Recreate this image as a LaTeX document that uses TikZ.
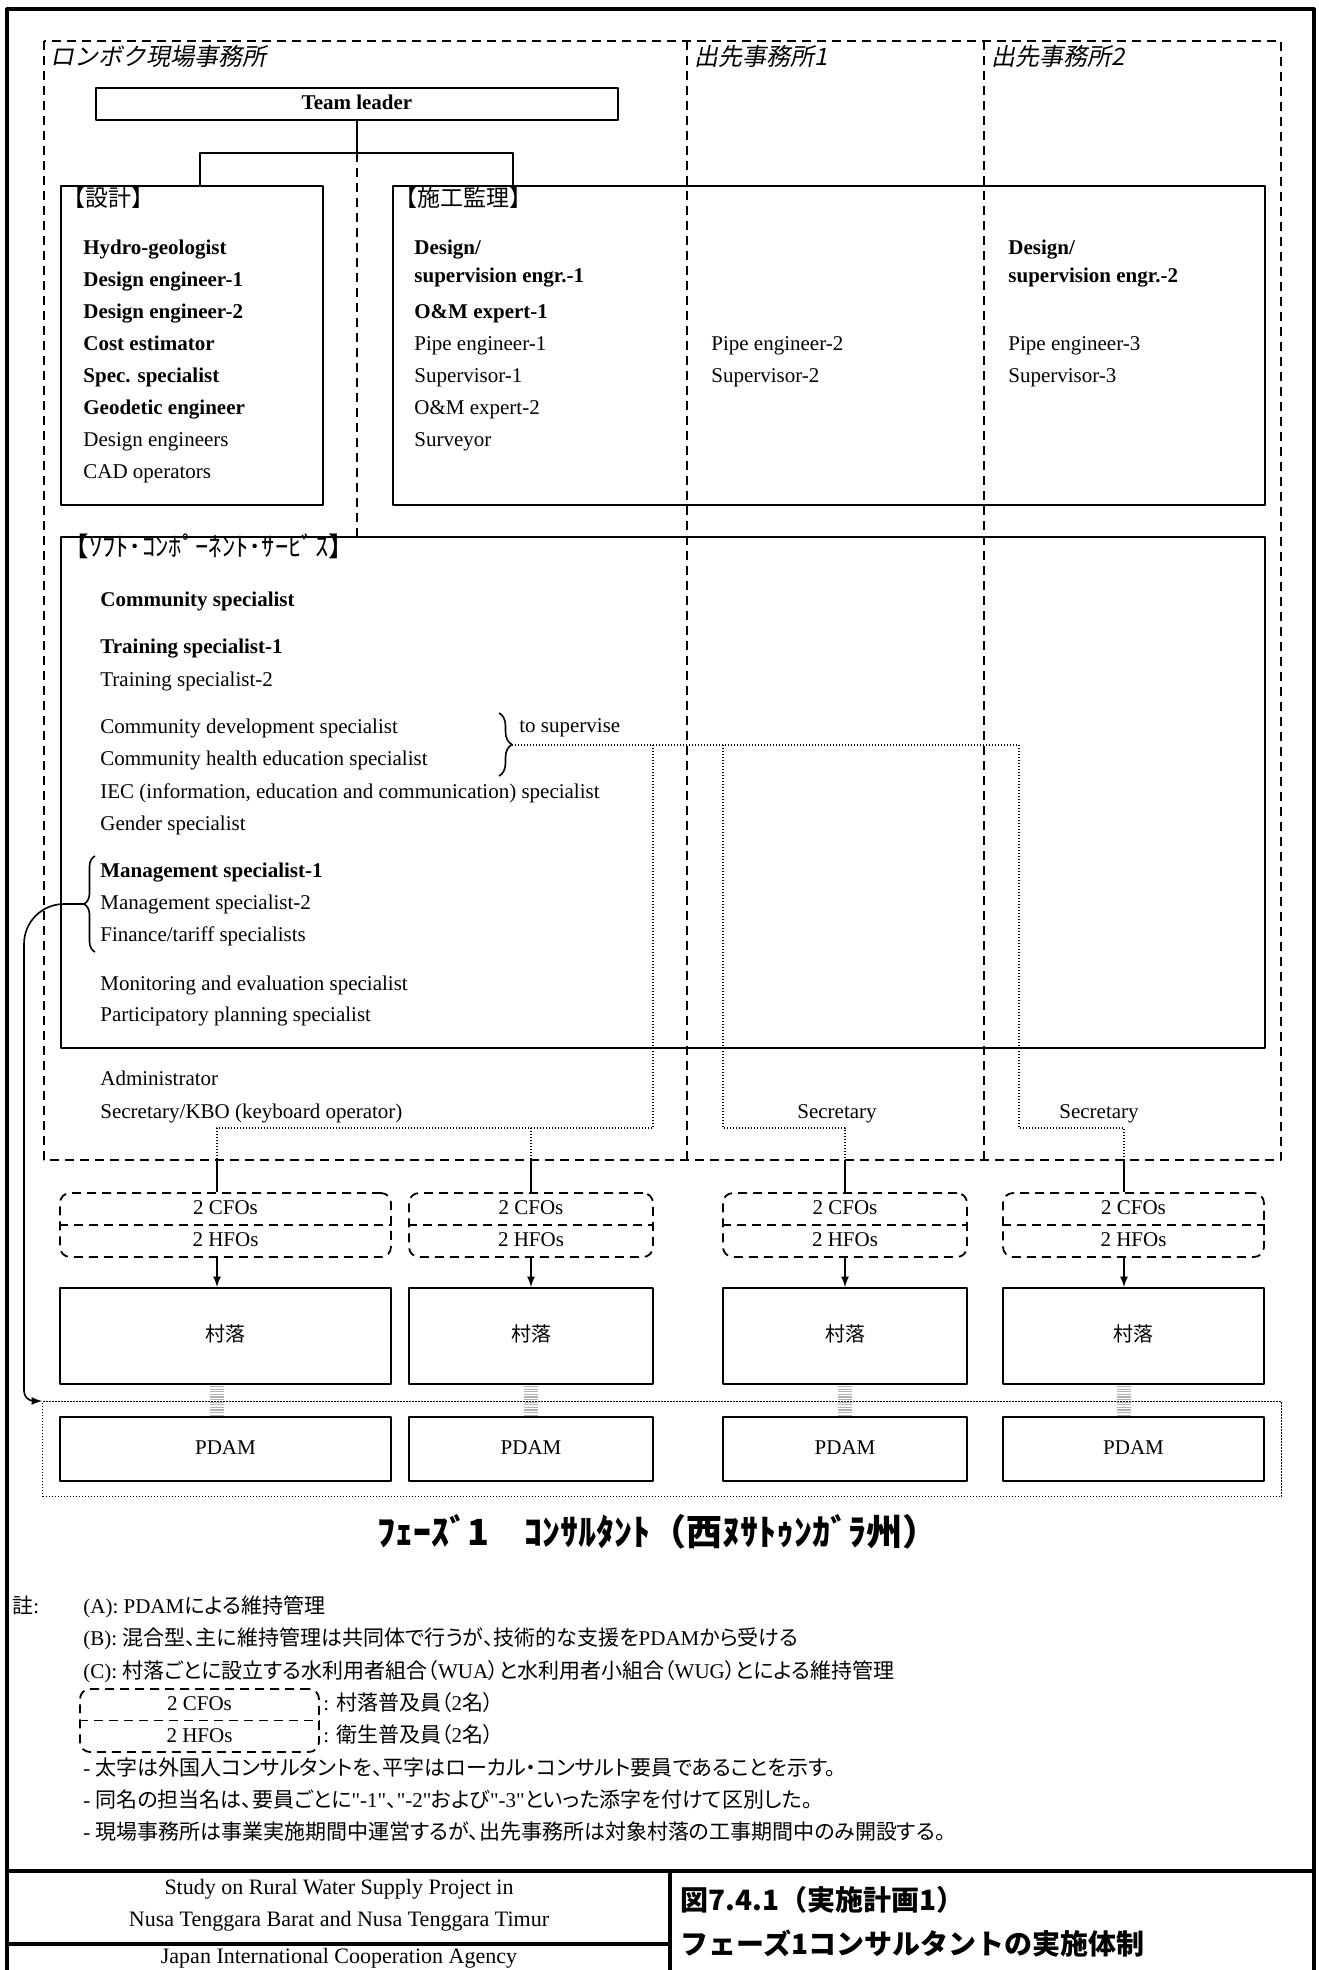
\documentclass[tikz,border=0pt]{standalone}
\usepackage{fontspec}
\setmainfont{Liberation Serif}
\newfontfamily\jp{Noto Sans CJK JP}
\newfontfamily\jpp{Noto Sans CJK JP}[RawFeature=+palt]
\newfontfamily\jpit{Noto Sans CJK JP}[FakeSlant=0.2]
\usetikzlibrary{decorations.pathreplacing}

\tikzset{
  box/.style={draw, line width=1pt, inner sep=0pt},
  area/.style={dash pattern=on 4.5pt off 3pt, line width=0.9pt},
  link/.style={dash pattern=on 0.6pt off 0.9pt, line width=0.55pt},
  fieldbox/.style={draw, area, rounded corners=5pt, minimum height=32pt},
  tie/.style={line width=0.8pt},
  memb/.style={anchor=west},
  lead/.style={anchor=west, font=\fontsize{10.5}{12}\selectfont\bfseries},
  office/.style={anchor=west, font=\jpit\fontsize{12}{14}\selectfont},
  seclabel/.style={anchor=west, font=\jp\fontsize{11.5}{13}\selectfont},
  note/.style={anchor=west, font=\fontsize{10.5}{12}\selectfont},
  figtitle/.style={anchor=west, font=\jp\bfseries\fontsize{14}{16}\selectfont}
}

\begin{document}
\begin{tikzpicture}[x=0.5pt, y=-0.5pt, line join=round, >=latex,
    every node/.style={inner sep=0pt, text height=0.7em, text depth=0.2em, font=\fontsize{10.5}{12}\selectfont}]
\useasboundingbox (0,0) rectangle (1318,1970);

% sheet frame and title block
\draw[line width=1.6pt] (7,1980) -- (7,9) -- (1314,9) -- (1314,1980);
\draw[line width=1.6pt] (7,1871) -- (1314,1871);
\draw[line width=1.6pt] (670,1871) -- (670,1980);
\draw[line width=1.6pt] (7,1944) -- (670,1944);
\node[font=\fontsize{11}{13}\selectfont] (study1) at (339,1889) {Study on Rural Water Supply Project in};
\node[font=\fontsize{11}{13}\selectfont] (study2) at (339,1921) {Nusa Tenggara Barat and Nusa Tenggara Timur};
\node[font=\fontsize{11}{13}\selectfont] (jica) at (339,1958) {Japan International Cooperation Agency};
\node[figtitle] (fignum) at (680,1905) {図7.4.1（実施計画1）};
\node[figtitle] (figname) at (680,1949) {フェーズ1コンサルタントの実施体制};

% offices
\draw[area] (44,41) rectangle (1281,1160);
\draw[area] (687,41) -- (687,1160);
\draw[area] (984,41) -- (984,1160);
\node[office] (lombok) at (50,60) {ロンボク現場事務所};
\node[office] (field1) at (694,60) {出先事務所1};
\node[office] (field2) at (991,60) {出先事務所2};

% team leader and groups
\node[box, minimum width=261pt, minimum height=16pt, font=\fontsize{10.5}{12}\selectfont\bfseries] (leader) at (357,104) {Team leader};
\node[box, anchor=north west, minimum width=131pt, minimum height=159.5pt] (design) at (60,185) {};
\node[box, anchor=north west, minimum width=436pt, minimum height=159.5pt] (works) at (392,185) {};
\node[box, anchor=north west, minimum width=602pt, minimum height=255.5pt] (soft) at (60,536) {};
\coordinate (split) at (357,153);
\draw[tie] (leader.south) -- (split);
\draw[tie] ([xshift=70pt]design.north west) |- (split) -| ([xshift=60.5pt]works.north west);
\draw[area] (split) -- (split |- soft.north);

\node[seclabel] (dlabel) at (62,201) {【設計】};
\node[seclabel] (wlabel) at (394,201) {【施工監理】};
\node[seclabel, font=\jp\fontsize{13.3}{15}\selectfont] (slabel) at (62,551) {【ｿﾌﾄ･ｺﾝﾎﾟｰﾈﾝﾄ･ｻｰﾋﾞｽ】};

% design
\foreach \y/\t [count=\i] in {249/Hydro-geologist, 281/Design engineer-1, 313/Design engineer-2, 345/Cost estimator, 377/Spec. specialist, 409/Geodetic engineer}
  \node[lead] (dx\i) at (83,\y) {\t};
\node[memb] (dx7) at (83,441) {Design engineers};
\node[memb] (dx8) at (83,473) {CAD operators};

% supervision
\node[lead] (wk1) at (414,249) {Design/};
\node[lead] (wk2) at (414,277) {supervision engr.-1};
\node[lead] (wk3) at (414,313) {O\&M expert-1};
\node[memb] (wk4) at (414,345) {Pipe engineer-1};
\node[memb] (wk5) at (414,377) {Supervisor-1};
\node[memb] (wk6) at (414,409) {O\&M expert-2};
\node[memb] (wk7) at (414,441) {Surveyor};
\node[memb] (fa1) at (711,345) {Pipe engineer-2};
\node[memb] (fa2) at (711,377) {Supervisor-2};
\node[lead] (fb1) at (1008,249) {Design/};
\node[lead] (fb2) at (1008,277) {supervision engr.-2};
\node[memb] (fb3) at (1008,345) {Pipe engineer-3};
\node[memb] (fb4) at (1008,377) {Supervisor-3};

% soft component
\foreach \y/\t [count=\i] in {601/Community specialist, 648/Training specialist-1, 872/Management specialist-1}
  \node[lead] (sb\i) at (100,\y) {\t};
\foreach \y/\t [count=\i] in {681/Training specialist-2, 728/Community development specialist, 760/Community health education specialist, 793/{IEC (information, education and communication) specialist}, 825/Gender specialist, 904/Management specialist-2, 936/{Finance/tariff specialists}, 985/Monitoring and evaluation specialist, 1016/Participatory planning specialist}
  \node[memb] (sr\i) at (100,\y) {\t};
\node[memb] (admin) at (100,1080) {Administrator};
\node[memb] (kbo) at (100,1113) {Secretary/KBO (keyboard operator)};
\node (sec1) at (837,1113) {Secretary};
\node (sec2) at (1099,1113) {Secretary};

\draw[tie, decorate, decoration={brace, amplitude=6.5pt}] (499,713) -- (499,776);
\coordinate (suptip) at (512,745);
\node[memb] (supv) at (519,727) {to supervise};
\draw[tie, decorate, decoration={brace, amplitude=5.5pt}] (95,952) -- (95,856);
\coordinate (mgtip) at (84,904);

% villages
\node[draw, link, anchor=north west, minimum width=619.5pt, minimum height=47.5pt] (pdamframe) at (42,1401) {};
\foreach \i/\cx/\w/\dx in {1/225.5/165.5/217, 2/531/122/531, 3/845/122/845, 4/1133.5/130.5/1124}{
  \coordinate (drop\i) at (\dx,1160);
  \node[fieldbox, minimum width=\w pt] (cfo\i) at (\cx,1225) {};
  \draw[area] (cfo\i.west) -- (cfo\i.east);
  \node (cfot\i) at (\cx,1209) {2 CFOs};
  \node (hfot\i) at (\cx,1241) {2 HFOs};
  \node[box, minimum width=\w pt, minimum height=48pt, font=\jp\fontsize{10}{12}\selectfont] (vil\i) at (\cx,1336) {村落};
  \node[box, minimum width=\w pt, minimum height=32pt] (pdam\i) at (\cx,1449) {PDAM};
  \draw[tie] (drop\i) -- (drop\i |- cfo\i.north);
  \draw[tie, ->] (drop\i |- cfo\i.south) -- (drop\i |- vil\i.north);
  \coordinate (gap\i) at (drop\i |- vil\i.south);
  \foreach \k in {0,...,11}
    \draw[gray!60, line width=0.65pt] ([xshift=-3.5pt, yshift=-\k*1.3pt-0.8pt]gap\i) -- ++(7pt,0);
}

% supervising links
\draw[link] (suptip) -- (1019,745);
\draw[link] (653,745) |- (217,1128) -- (drop1);
\draw[link] (531,1128) -- (drop2);
\draw[link] (723,745) |- (845,1128) -- (drop3);
\draw[link] (1019,745) |- (1124,1128) -- (drop4);
\draw[tie, ->] (mgtip) [rounded corners=20pt] -| (24,1300) [rounded corners=5pt] |- (pdamframe.north west);

\node[font=\jp\bfseries\fontsize{18}{20}\selectfont] (caption) at (658,1540) {ﾌｪｰｽﾞ1\hspace{1em}ｺﾝｻﾙﾀﾝﾄ（西ﾇｻﾄｩﾝｶﾞﾗ州）};

% notes
\node[note] (notehead) at (12,1608) {{\jp 註}:};
\node[note] (noteA) at (83,1608) {(A): PDAM{\jpp による維持管理}};
\node[note] (noteB) at (83,1640) {(B): {\jpp 混合型、主に維持管理は共同体で行うが、技術的な支援を}PDAM{\jpp から受ける}};
\node[note] (noteC) at (83,1673) {(C): {\jpp 村落ごとに設立する水利用者組合（}WUA{\jpp ）と水利用者小組合（}WUG{\jpp ）とによる維持管理}};
\node[fieldbox, minimum width=119.5pt, minimum height=31.5pt] (legend) at (199.5,1720.5) {};
\draw[area] (legend.west) -- (legend.east);
\node (legcfo) at (199.5,1705) {2 CFOs};
\node (leghfo) at (199.5,1737) {2 HFOs};
\node[note] (legc) at (323,1705) {: {\jpp 村落普及員（}2{\jpp 名）}};
\node[note] (legh) at (323,1737) {: {\jpp 衛生普及員（}2{\jpp 名）}};
\node[note] (note1) at (83,1770) {- {\jpp 太字は外国人コンサルタントを、平字はローカル・コンサルト要員であることを示す。}};
\node[note] (note2) at (83,1802) {- {\jpp 同名の担当名は、要員ごとに}\textquotedbl-1\textquotedbl{\jpp 、}\textquotedbl-2\textquotedbl{\jpp および}\textquotedbl-3\textquotedbl{\jpp といった添字を付けて区別した。}};
\node[note] (note3) at (83,1834) {- {\jpp 現場事務所は事業実施期間中運営するが、出先事務所は対象村落の工事期間中のみ開設する。}};
\end{tikzpicture}
\end{document}
